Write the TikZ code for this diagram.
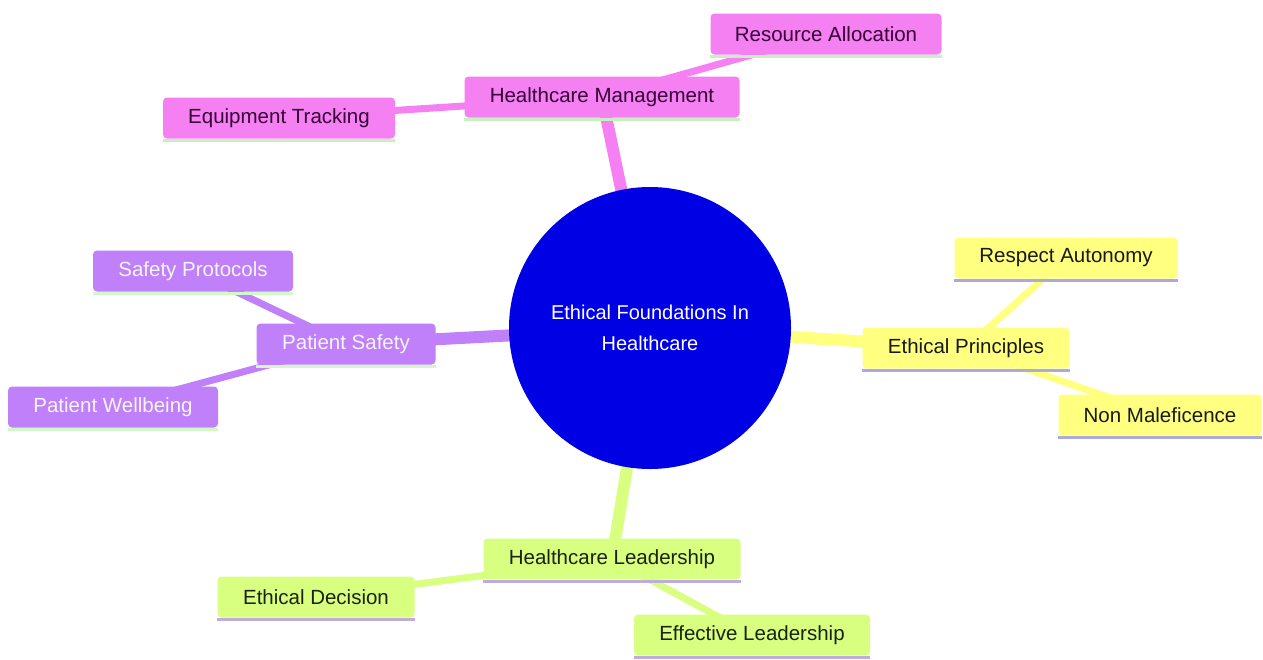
\documentclass[tikz,border=0pt]{standalone}
\usepackage{fontspec}
\setmainfont{Liberation Sans}
\definecolor{pinkF}{RGB}{244,128,242}
\definecolor{pinkB}{RGB}{200,240,190}
\definecolor{pinkT}{RGB}{55,0,55}
\definecolor{purpF}{RGB}{192,128,250}
\definecolor{purpB}{RGB}{210,248,200}
\definecolor{purpT}{RGB}{245,245,245}
\definecolor{yelF}{RGB}{255,255,128}
\definecolor{yelB}{RGB}{170,170,220}
\definecolor{yelT}{RGB}{25,25,25}
\definecolor{grnF}{RGB}{216,255,128}
\definecolor{grnB}{RGB}{190,172,225}
\definecolor{grnT}{RGB}{25,35,15}
\definecolor{rootF}{RGB}{0,0,228}
\pgfdeclarelayer{bg}
\pgfdeclarelayer{edges}
\pgfsetlayers{bg,edges,main}
\begin{document}
\begin{tikzpicture}[x=1pt,y=-1pt,
  mmbox/.style={rectangle, rounded corners=4pt, minimum height=41pt, inner sep=0pt,
     font=\fontsize{20.5}{24}\selectfont},
  pinkbox/.style={mmbox, fill=pinkF, text=pinkT},
  purpbox/.style={mmbox, fill=purpF, text=purpT},
  yelbox/.style={mmbox, fill=yelF, text=yelT},
  grnbox/.style={mmbox, fill=grnF, text=grnT},
  mainedge/.style={line width=12pt},
  leafedge/.style={line width=7pt},
  bline/.style={line width=3pt}]
\useasboundingbox (0,0) rectangle (1263,659);
\begin{pgfonlayer}{bg}
\fill[white] (0,0) rectangle (1263,659);
\end{pgfonlayer}

\coordinate (cRoot) at (650,328);
\node[circle, fill=rootF, minimum size=282pt, inner sep=0pt, text=white, align=center,
      font=\fontsize{20}{31}\selectfont] (root) at (cRoot) {Ethical Foundations In\\Healthcare};

\node[pinkbox, minimum width=275pt] (hm) at (602,97) {Healthcare Management};
\node[pinkbox, minimum width=231pt] (ra) at (826,34) {Resource Allocation};
\node[pinkbox, minimum width=232pt] (et) at (279,118) {Equipment Tracking};

\node[purpbox, minimum width=179pt] (ps) at (346,344) {Patient Safety};
\node[purpbox, minimum width=200pt] (sp) at (193,271) {Safety Protocols};
\node[purpbox, minimum width=210pt] (pw) at (113,407) {Patient Wellbeing};

\node[yelbox, minimum width=207pt] (ep) at (966,348) {Ethical Principles};
\node[yelbox, minimum width=223pt] (rau) at (1066,258) {Respect Autonomy};
\node[yelbox, minimum width=203pt] (nm) at (1160,415) {Non Maleficence};

\node[grnbox, minimum width=257pt] (hl) at (612,559) {Healthcare Leadership};
\node[grnbox, minimum width=197pt] (ed) at (316,597) {Ethical Decision};
\node[grnbox, minimum width=236pt] (el) at (752,635) {Effective Leadership};

\begin{pgfonlayer}{edges}
  \draw[mainedge, pinkF] (root.center) -- (hm.center);
  \draw[leafedge, pinkF] (hm.center) -- (ra.center);
  \draw[leafedge, pinkF] (hm.center) -- (et.center);
  \draw[mainedge, purpF] (root.center) -- (ps.center);
  \draw[leafedge, purpF] (ps.center) -- (sp.center);
  \draw[leafedge, purpF] (ps.center) -- (pw.center);
  \draw[mainedge, yelF] (root.center) -- (ep.center);
  \draw[leafedge, yelF] (ep.center) -- (rau.center);
  \draw[leafedge, yelF] (ep.center) -- (nm.center);
  \draw[mainedge, grnF] (root.center) -- (hl.center);
  \draw[leafedge, grnF] (hl.center) -- (ed.center);
  \draw[leafedge, grnF] (hl.center) -- (el.center);
\end{pgfonlayer}

% coloured bottom lines
\foreach \n/\c in {hm/pinkB, ra/pinkB, et/pinkB, ps/purpB, sp/purpB, pw/purpB,
                   ep/yelB, rau/yelB, nm/yelB, hl/grnB, ed/grnB, el/grnB} {
  \draw[bline, \c] ([yshift=-1.5pt]\n.south west) -- ([yshift=-1.5pt]\n.south east);
}
\end{tikzpicture}
\end{document}
